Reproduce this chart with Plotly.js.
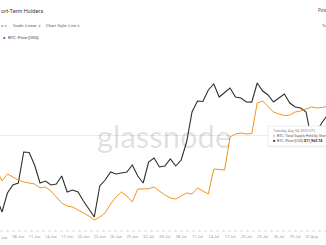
<!DOCTYPE html>
<html><head><meta charset="utf-8">
<script src="https://cdn.plot.ly/plotly-3.0.1.min.js"></script>
<style>html,body{margin:0;padding:0;background:#fff;overflow:hidden}#chart{width:326px;height:245px}</style>
</head><body><div id="chart"></div>
<script>
const dates = [
"2020-06-04","2020-06-05","2020-06-06","2020-06-07","2020-06-08","2020-06-09","2020-06-10","2020-06-11","2020-06-12","2020-06-13",
"2020-06-14","2020-06-15","2020-06-16","2020-06-17","2020-06-18","2020-06-19","2020-06-20","2020-06-21","2020-06-22","2020-06-23",
"2020-06-24","2020-06-25","2020-06-26","2020-06-27","2020-06-28","2020-06-29","2020-06-30",
"2020-07-01","2020-07-02","2020-07-03","2020-07-04","2020-07-05","2020-07-06","2020-07-07","2020-07-08","2020-07-09","2020-07-10",
"2020-07-11","2020-07-12","2020-07-13","2020-07-14","2020-07-15","2020-07-16","2020-07-17","2020-07-18","2020-07-19","2020-07-20",
"2020-07-21","2020-07-22","2020-07-23","2020-07-24","2020-07-25","2020-07-26","2020-07-27","2020-07-28","2020-07-29","2020-07-30","2020-07-31",
"2020-08-01","2020-08-02","2020-08-03","2020-08-04"];

// BTC: Price [USD]
const btcPrice = [
9551,9145,9696,9928,9986,10885,10870,10508,9986,10044,
9928,9957,10189,9725,9783,9725,9464,9232,9000,9899,
10073,10305,10247,10276,10305,10508,10189,
9986,10595,10711,10450,10479,10682,10479,10653,11175,12045,
12364,12350,12683,12857,12480,12625,12741,12480,12451,12335,
12330,12886,12654,12538,12335,12451,12567,12306,12190,12161,12045,
11233,11494,11755,11963.74];

// BTC: Total Supply Held by Short-Term Holders [M BTC]
const sthSupply = [
2.400,2.312,2.368,2.344,2.320,2.304,2.296,2.288,2.256,2.264,
2.232,2.184,2.136,2.112,2.104,2.080,2.056,2.032,2.000,2.024,
2.056,2.128,2.184,2.224,2.192,2.144,2.248,
2.248,2.250,2.264,2.232,2.200,2.176,2.168,2.192,2.216,2.208,
2.256,2.232,2.208,2.408,2.406,2.400,2.664,2.688,2.696,2.688,
2.692,2.936,2.952,2.912,2.864,2.848,2.836,2.840,2.864,2.872,2.888,
2.904,2.896,2.900,2.912];

const W = 326, T = 45, B = 231;
const px = x => x / W;
const py = y => (B - y) / (B - T);
const FF = "Roboto, 'Open Sans', sans-serif";

const traces = [
  {x: dates, y: sthSupply, yaxis: 'y2', type: 'scatter', mode: 'lines',
   line: {color: '#f7931a', width: 1}, name: 'BTC: Total Supply Held by Short-Term Holders', hoverinfo: 'skip'},
  {x: dates, y: btcPrice, yaxis: 'y', type: 'scatter', mode: 'lines',
   line: {color: '#2e2e2e', width: 1.1}, name: 'BTC: Price [USD]', hoverinfo: 'skip'}
];

function ann(text, x, y, size, color, anchor, extra) {
  return Object.assign({text: text, x: px(x), y: py(y), xref: 'paper', yref: 'paper',
    xanchor: anchor || 'left', yanchor: 'middle', showarrow: false, borderpad: 0,
    font: {family: FF, size: size, color: color}}, extra || {});
}

const annotations = [
  ann('glassnode', 164, 136, 31, 'rgba(0,0,0,0.13)', 'center', {font: {family: "Lato, " + FF, size: 31, color: 'rgba(0,0,0,0.13)', weight: 400}}),
  ann('ort-Term Holders', -0.5, 10.7, 5.6, '#3a3a3a'),
  ann('s ∨', -0.5, 25, 4.2, '#666'),
  ann('Scale: Linear ∨', 11.5, 25, 4.2, '#666'),
  ann('Chart Style: Line ∨', 44.5, 25, 4.2, '#666'),
  ann('●', 1.8, 37.7, 4, '#111'),
  ann('BTC: Price [USD]', 6.5, 37.7, 4.2, '#444'),
  ann('Pow', 316.5, 10.5, 4.5, '#555'),
  ann('To', 321, 25, 4.2, '#666'),
  ann('Jun', 0, 237.8, 3.9, '#9a9a9a'),
  ann('Tuesday, Aug 04 2020 UTC', 271.5, 130.8, 3.6, '#888'),
  ann('●', 271.5, 135.6, 3.6, '#f7931a'),
  ann('BTC: Total Supply Held by Short-Term Holders', 275.5, 135.6, 3.6, '#555'),
  ann('■', 271.5, 140.6, 3.6, '#111'),
  ann('BTC: Price [USD]', 275.5, 140.6, 3.6, '#555'),
  ann('<b>$11,963.74</b>', 302.5, 140.6, 3.6, '#222')
];

const shapes = [
  {type: 'line', xref: 'paper', yref: 'paper', x0: 0, x1: 1, y0: 0, y1: 0,
   line: {color: '#d8d8d8', width: 1, dash: 'dot'}},
  {type: 'rect', xref: 'paper', yref: 'paper', x0: px(268.8), x1: px(332), y0: py(147.2), y1: py(126.7),
   fillcolor: 'rgba(235,235,235,0.9)', line: {width: 0}},
  {type: 'rect', xref: 'paper', yref: 'paper', x0: px(268), x1: px(331), y0: py(146.2), y1: py(126),
   fillcolor: '#ffffff', line: {color: '#e0e0e0', width: 0.6}}
];

const layout = {
  width: 326, height: 245,
  margin: {l: 0, r: 0, t: T, b: 245 - B, pad: 0},
  paper_bgcolor: '#ffffff', plot_bgcolor: '#ffffff',
  showlegend: false, hovermode: false,
  xaxis: {type: 'date', range: ['2020-06-04 15:10', '2020-08-03 16:05'],
    tick0: '2020-06-05', dtick: 3 * 86400000, tickformat: '%d %b',
    showgrid: false, zeroline: false, showline: false, ticks: '',
    ticklabelstandoff: 2,
    tickfont: {family: FF, size: 3.9, color: '#9a9a9a'}},
  yaxis: {range: [8594, 13988], tickmode: 'array', tickvals: [11363.5],
    showticklabels: false, showgrid: true, gridcolor: '#ebebeb', gridwidth: 1,
    zeroline: false, showline: false, ticks: ''},
  yaxis2: {range: [1.912, 3.400], overlaying: 'y', side: 'right',
    showgrid: false, showticklabels: false, zeroline: false, showline: false, ticks: ''},
  annotations: annotations,
  shapes: shapes
};

Plotly.newPlot('chart', traces, layout, {staticPlot: true, displayModeBar: false});
</script>
</body></html>
